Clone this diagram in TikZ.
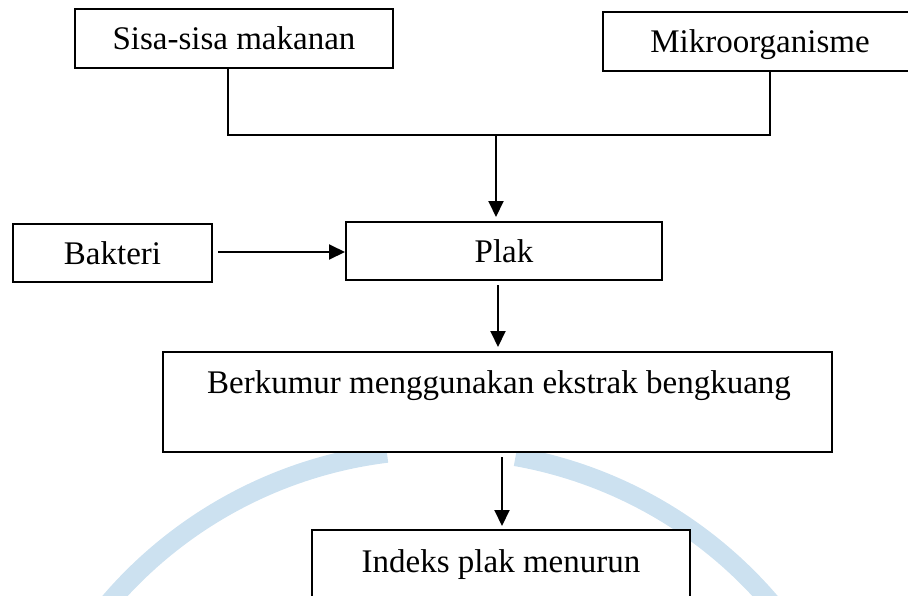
\documentclass[tikz,border=0pt]{standalone}
\usepackage{fontspec}
\setmainfont{Liberation Serif}
\usetikzlibrary{arrows.meta}
\definecolor{wmblue}{RGB}{204,225,240}
\tikzset{
  box/.style={draw=black, line width=2pt, fill=white, rectangle, inner sep=0pt,
              text height=22pt, text depth=0pt},
  lbl/.style={inner sep=0pt, anchor=base},
  conn/.style={line width=2pt},
  arr/.style={line width=2pt, -{Triangle[length=16pt,width=15pt]}},
}
\begin{document}
\begin{tikzpicture}[x=1pt,y=-1pt]
\fontsize{33}{40}\selectfont
\useasboundingbox (0,0) rectangle (908,595);
% faint watermark arcs
\begin{scope}
\clip (0,0) rectangle (908,595);
\draw[wmblue, line width=19pt] (440,885) ++(-140:435) arc[start angle=-140, end angle=-97, radius=435];
\draw[wmblue, line width=19pt] (440,885) ++(-80:435) arc[start angle=-80, end angle=-38, radius=435];
\end{scope}
% boxes
\node[box, minimum width=318pt, minimum height=59pt] (sisa) at (234,38.5) {Sisa-sisa makanan};
\node[box, minimum width=309pt, minimum height=59pt] (mikro) at (757.5,41.5) {\hspace*{5pt}Mikroorganisme};
\node[box, minimum width=199pt, minimum height=58pt] (bakteri) at (112.5,253) {Bakteri};
\node[box, minimum width=316pt, minimum height=58pt] (plak) at (504,251) {Plak};
\node[box, minimum width=669pt, minimum height=100pt] (berk) at (497.5,402) {};
\node[lbl] (berktext) at (499,393) {Berkumur menggunakan ekstrak bengkuang};
\node[box, minimum width=378pt, minimum height=130pt] (indeks) at (501,595) {};
\node[lbl] (indekstext) at (501,572) {Indeks plak menurun};
% connectors
\coordinate (j1) at (228,135);
\coordinate (j2) at (770,135);
\coordinate (jm) at (496,135);
\draw[conn] (sisa.south -| j1) -- (j1) -- (j2) -- (mikro.south -| j2);
\draw[arr, shorten >=4pt] (jm) -- (plak.north -| jm);
\draw[arr, shorten <=5pt] (bakteri.east |- 0,252) -- (plak.west |- 0,252);
\draw[arr, shorten <=4pt, shorten >=4pt] ([xshift=-6pt]plak.south) -- ([xshift=-6pt]plak.south |- berk.north);
\draw[arr, shorten <=4pt, shorten >=3pt] ([xshift=4.5pt]berk.south) -- ([xshift=4.5pt]berk.south |- indeks.north);
\end{tikzpicture}
\end{document}
